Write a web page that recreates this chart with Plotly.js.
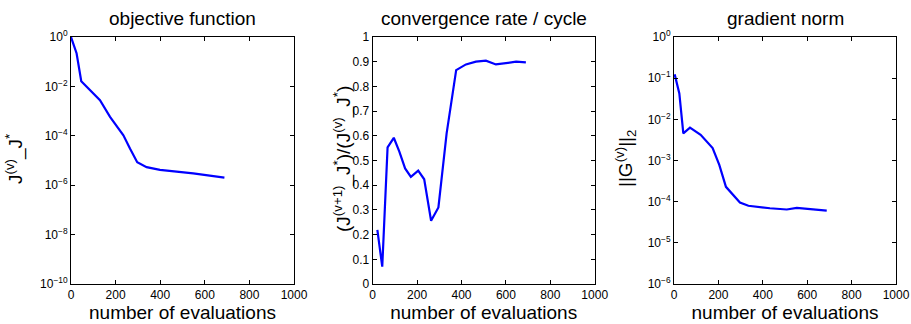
<!DOCTYPE html>
<html>
<head>
<meta charset="utf-8">
<script src="https://cdn.plot.ly/plotly-3.0.1.min.js"></script>
<style>html,body{margin:0;padding:0;background:#fff;}#chart{width:911px;height:324px;}</style>
</head>
<body>
<div id="chart"></div>
<script>
// Panel 1: objective function J(v) - J*
var objEvals = [0, 25, 46, 100, 130, 175, 235, 265, 297, 339, 399, 548, 688];
var objValues = [1.0, 0.22, 0.0162, 0.0051, 0.00275, 0.00058, 0.000105, 0.00003, 0.0000085, 0.0000054, 0.0000042, 0.000003, 0.00000204];

// Panel 2: convergence rate / cycle
var rateEvals = [21, 43, 67, 95, 120, 146, 172, 205, 232, 263, 296, 333, 376, 420, 465, 510, 555, 600, 646, 690];
var rateValues = [0.219, 0.07, 0.553, 0.592, 0.536, 0.468, 0.434, 0.459, 0.424, 0.256, 0.31, 0.61, 0.866, 0.889, 0.9, 0.904, 0.889, 0.893, 0.9, 0.897];

// Panel 3: gradient norm
var gradEvals = [3, 24, 42, 72, 120, 174, 204, 234, 297, 335, 432, 508, 553, 688];
var gradValues = [0.124, 0.0427, 0.00457, 0.0063, 0.0042, 0.002, 0.00078, 0.000229, 0.0000955, 0.0000794, 0.0000692, 0.0000646, 0.0000708, 0.0000603];

// Tick labels
var objTickVals = [1e-10, 1e-8, 1e-6, 1e-4, 1e-2, 1];
var objTickText = ['10<sup>−10</sup>', '10<sup>−8</sup>', '10<sup>−6</sup>', '10<sup>−4</sup>', '10<sup>−2</sup>', '10<sup>0</sup>'];
var gradTickVals = [1e-6, 1e-5, 1e-4, 1e-3, 1e-2, 1e-1, 1];
var gradTickText = ['10<sup>−6</sup>', '10<sup>−5</sup>', '10<sup>−4</sup>', '10<sup>−3</sup>', '10<sup>−2</sup>', '10<sup>−1</sup>', '10<sup>0</sup>'];

var panelTitles = ['objective function', 'convergence rate / cycle', 'gradient norm'];
var xTitle = 'number of evaluations';
var yTitles = ['J<sup>(v)</sup>_J<sup>*</sup>', '(J<sup>(v+1)</sup>_J<sup>*</sup>)/(J<sup>(v)</sup>_J<sup>*</sup>)', '||G<sup>(v)</sup>||<sub>2</sub>'];

var lineStyle = {color: 'rgb(0,0,255)', width: 2.2};
var traces = [
  {x: objEvals, y: objValues, xaxis: 'x', yaxis: 'y', mode: 'lines', line: lineStyle, hoverinfo: 'skip'},
  {x: rateEvals, y: rateValues, xaxis: 'x2', yaxis: 'y2', mode: 'lines', line: lineStyle, hoverinfo: 'skip'},
  {x: gradEvals, y: gradValues, xaxis: 'x3', yaxis: 'y3', mode: 'lines', line: lineStyle, hoverinfo: 'skip'}
];

var W = 911, H = 324;
var FONT = 'Liberation Sans, Arial, sans-serif';
var doms = [[71 / W, 294 / W], [372.7 / W, 594.7 / W], [674 / W, 896 / W]];
var ydom = [1 - 284 / H, 1 - 37 / H];
var yTitleX = [14, 342, 625];
var tickFont = {family: FONT, size: 12, color: '#000'};
var titleFont = {family: FONT, size: 19, color: '#000'};

function xaxisDef(i) {
  return {
    domain: doms[i], anchor: i === 0 ? 'y' : 'y' + (i + 1),
    range: [0, 1000], tickmode: 'linear', tick0: 0, dtick: 200,
    ticks: 'inside', ticklen: 4, tickwidth: 1, tickcolor: '#000',
    showline: true, linecolor: '#000', linewidth: 1, mirror: 'ticks',
    showgrid: false, zeroline: false, tickfont: tickFont,
    title: {text: xTitle, font: titleFont, standoff: 2}
  };
}
function yaxisCommon(i) {
  return {
    domain: ydom, anchor: i === 0 ? 'x' : 'x' + (i + 1),
    ticks: 'inside', ticklen: 4, tickwidth: 1, tickcolor: '#000',
    showline: true, linecolor: '#000', linewidth: 1, mirror: 'ticks',
    showgrid: false, zeroline: false, tickfont: tickFont
  };
}

var y1 = yaxisCommon(0);
y1.type = 'log'; y1.range = [-10, 0]; y1.tickmode = 'array'; y1.tickvals = objTickVals; y1.ticktext = objTickText;
var y2 = yaxisCommon(1);
y2.range = [0, 1]; y2.tickmode = 'linear'; y2.tick0 = 0; y2.dtick = 0.1;
var y3 = yaxisCommon(2);
y3.type = 'log'; y3.range = [-6, 0]; y3.tickmode = 'array'; y3.tickvals = gradTickVals; y3.ticktext = gradTickText;

var annotations = panelTitles.map(function (t, i) {
  return {
    text: t, xref: 'paper', yref: 'paper',
    x: (doms[i][0] + doms[i][1]) / 2, y: 1 - 18 / H,
    xanchor: 'center', yanchor: 'middle', showarrow: false,
    font: {family: FONT, size: 19, color: '#000'}
  };
}).concat(yTitles.map(function (t, i) {
  return {
    text: t, xref: 'paper', yref: 'paper', textangle: -90,
    x: yTitleX[i] / W, y: 1 - 159 / H,
    xanchor: 'center', yanchor: 'middle', showarrow: false,
    font: titleFont
  };
}));

var layout = {
  width: W, height: H,
  margin: {l: 0, r: 0, t: 0, b: 0},
  paper_bgcolor: '#fff', plot_bgcolor: '#fff',
  showlegend: false,
  xaxis: xaxisDef(0), xaxis2: xaxisDef(1), xaxis3: xaxisDef(2),
  yaxis: y1, yaxis2: y2, yaxis3: y3,
  annotations: annotations
};

Plotly.newPlot('chart', traces, layout, {staticPlot: true, displayModeBar: false});
</script>
</body>
</html>
